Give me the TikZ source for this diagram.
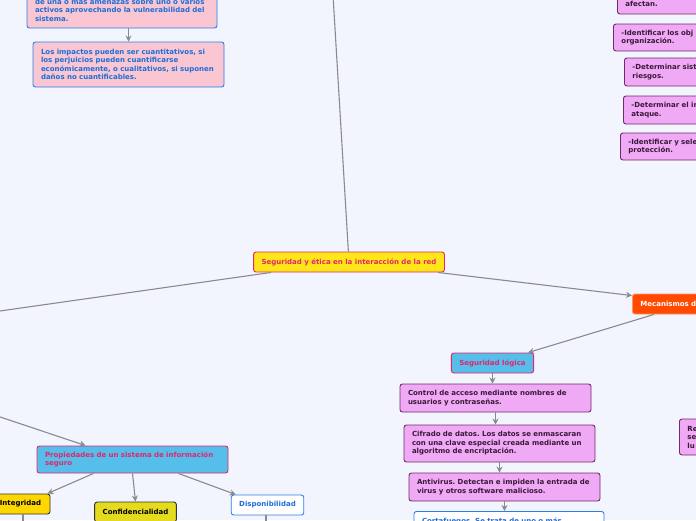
\documentclass[tikz,border=0pt]{standalone}
\usepackage{fontspec}
\setmainfont{DejaVu Sans}
\usetikzlibrary{arrows.meta}
\frenchspacing

\definecolor{bgblue}{HTML}{F2F5FD}
\definecolor{pinkfill}{HTML}{F9C6D2}
\definecolor{bluedraw}{HTML}{2B7DE9}
\definecolor{bluetext}{HTML}{1C6ED8}
\definecolor{violetfill}{HTML}{EFA9F5}
\definecolor{violetdraw}{HTML}{6E2C69}
\definecolor{violettext}{HTML}{3A1838}
\definecolor{sunyellow}{HTML}{FFE619}
\definecolor{crimson}{HTML}{E3256B}
\definecolor{skyblue}{HTML}{55BEEB}
\definecolor{flame}{HTML}{FF4A00}
\definecolor{gold}{HTML}{FFD700}
\definecolor{olive}{HTML}{E5DB1E}
\definecolor{linegray}{HTML}{8A8A8E}

\tikzset{
  box/.style={rounded corners=2.5pt, line width=0.9pt, align=left,
    font=\fontsize{7}{8.5}\selectfont\bfseries, inner xsep=8pt, inner ysep=0pt},
  pinkbox/.style={box, fill=pinkfill, draw=bluedraw, text=bluetext},
  violetbox/.style={box, fill=violetfill, draw=violetdraw, text=violettext},
  bluebox/.style={box, fill=skyblue, draw=crimson, text=crimson},
  whitebox/.style={box, fill=white, draw=bluedraw, text=bluetext},
  conn/.style={draw=linegray, line width=1.1pt},
  arr/.style={conn, -{Stealth[length=6pt,width=6pt]}},
}

\begin{document}
\begin{tikzpicture}[x=1pt, y=-1pt]
	\useasboundingbox (0,0) rectangle (696,520);
	\clip (0,0) rectangle (696,520);
	\fill[bgblue] (0,0) rectangle (696,520);

	% left side
	\node (amenaza) at (122,10) [pinkbox, text width=174pt, minimum height=36pt]
		{de una o más amenazas sobre uno o varios\\activos aprovechando la vulnerabilidad del\\sistema.};
	\node (impacto) at (128.5,64.5) [pinkbox, text width=175pt, minimum height=45pt]
		{Los impactos pueden ser cuantitativos, si\\los perjuicios pueden cuantificarse\\económicamente, o cualitativos, si suponen\\daños no cuantificables.};

	% right column
	\node (afectan) at (617,4) [violetbox, anchor=west, text width=100pt, minimum height=20pt] {afectan.};
	\node (objet) at (613,37.5) [violetbox, anchor=west, text width=100pt, minimum height=27pt] {-Identificar los obj\\organización.};
	\node (sist) at (624,72) [violetbox, anchor=west, text width=100pt, minimum height=28pt] {-Determinar sist\\riesgos.};
	\node (impat) at (623,110) [violetbox, anchor=west, text width=100pt, minimum height=28pt] {-Determinar el in\\ataque.};
	\node (selec) at (620,146.5) [violetbox, anchor=west, text width=100pt, minimum height=27pt] {-Identificar y sele\\protección.};

	% centre
	\node (red) at (349,262) [box, fill=sunyellow, draw=crimson, text=crimson, align=center, minimum width=188pt, minimum height=20pt]
		{Seguridad y ética en la interacción de la red};
	\node (mec) at (632,304) [box, anchor=west, fill=flame, draw=flame!60, text=white, text width=100pt, minimum height=20pt] {Mecanismos de};

	% seguridad logica
	\node (logica) at (492.5,363) [bluebox, align=center, minimum width=81pt, minimum height=20pt] {Seguridad lógica};
	\node (acceso) at (495.5,398) [violetbox, text width=175pt, minimum height=28pt]
		{Control de acceso mediante nombres de\\usuarios y contraseñas.};
	\node (cifrado) at (499.5,443.5) [violetbox, text width=175pt, minimum height=37pt]
		{Cifrado de datos. Los datos se enmascaran\\con una clave especial creada mediante un\\algoritmo de encriptación.};
	\node (antivirus) at (504.5,487) [violetbox, text width=175pt, minimum height=28pt]
		{Antivirus. Detectan e impiden la entrada de\\virus y otros software malicioso.};
	\node (corta) at (509,511) [whitebox, anchor=north, text width=174pt, minimum height=20pt]
		{Cortafuegos. Se trata de uno o más};
	\node (resto) at (679,437) [violetbox, anchor=west, text width=40pt, minimum height=36pt] {Re\\se\\lu};

	% propiedades
	\node (prop) at (132.5,459.5) [bluebox, text width=175pt, minimum height=27pt]
		{Propiedades de un sistema de información\\seguro};
	\node (integ) at (20.5,504) [box, fill=gold, draw=black!80, text=black, align=center, minimum width=59pt, minimum height=20pt] {Integridad};
	\node (confid) at (135.5,512) [box, fill=olive, draw=black!80, text=black, align=center, minimum width=81pt, minimum height=20pt] {Confidencialidad};
	\node (dispon) at (267.5,505) [whitebox, align=center, minimum width=71pt, minimum height=20pt] {Disponibilidad};

	% loose ends
	\coordinate (topin) at (333,-5);
	\coordinate (leftout) at (-10,312.4);
	\coordinate (leftin) at (-10,413.6);
	\coordinate (integout) at (23,530);
	\coordinate (disponout) at (266,530);

	\draw[conn] (topin) -- (red);
	\draw[conn] ([xshift=18pt]red.south west) -- (leftout);
	\draw[arr] ([xshift=-7pt]red.south east) -- ([yshift=-2pt]mec.north west);
	\draw[arr] ([xshift=22pt]mec.south west) -- ([xshift=-6pt]logica.north east);
	\draw[arr] (amenaza.south -| impacto.north) -- (impacto.north);
	\draw[arr] (logica.south) -- (logica.south |- acceso.north);
	\draw[arr] (acceso.south) -- (acceso.south |- cifrado.north);
	\draw[arr] (cifrado.south) -- (cifrado.south |- antivirus.north);
	\draw[arr] (antivirus.south) -- (antivirus.south |- corta.north);
	\draw[arr] (leftin) -- ([xshift=49pt]prop.north west);
	\draw[arr] ([xshift=57pt]prop.south west) -- ([xshift=-3pt]integ.north east);
	\draw[arr] (prop.south) -- (confid.north);
	\draw[arr] ([xshift=-50pt]prop.south east) -- ([xshift=5pt]dispon.north west);
	\draw[conn] (integ.south -| integout) -- (integout);
	\draw[conn] (dispon.south -| disponout) -- (disponout);
\end{tikzpicture}
\end{document}
